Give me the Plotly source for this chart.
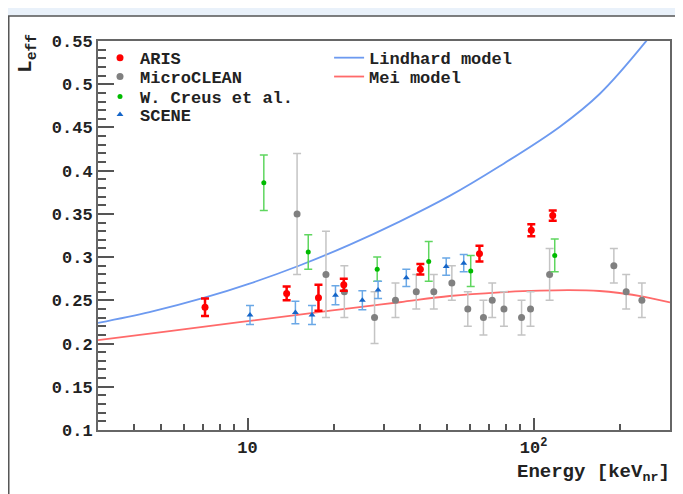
import plotly.graph_objects as go

# ARIS
aris_e = [7.1, 13.7, 17.7, 21.7, 40.2, 64.7, 98.2, 116.7]
aris_l = [0.242, 0.258, 0.253, 0.268, 0.286, 0.304, 0.331, 0.348]
aris_err = [0.010, 0.008, 0.015, 0.007, 0.006, 0.009, 0.007, 0.006]

# MicroCLEAN
micro_e = [14.9, 18.8, 21.8, 27.8, 32.9, 38.9, 44.8, 51.8, 58.9, 66.8, 71.7, 78.8,
           90.8, 97.6, 113.8, 190.9, 210.8, 239.2]
micro_l = [0.35, 0.28, 0.26, 0.23, 0.25, 0.26, 0.26, 0.27, 0.24, 0.23, 0.25, 0.24,
           0.23, 0.24, 0.28, 0.29, 0.26, 0.25]
micro_err = [0.07, 0.05, 0.03, 0.03, 0.02, 0.02, 0.02, 0.02, 0.02, 0.02, 0.02, 0.02,
             0.02, 0.02, 0.03, 0.02, 0.02, 0.02]

# W. Creus et al.
creus_e = [11.4, 16.3, 28.4, 43.0, 60.3, 118.6]
creus_l = [0.386, 0.306, 0.286, 0.295, 0.284, 0.302]
creus_err = [0.032, 0.020, 0.014, 0.023, 0.018, 0.019]

# SCENE
scene_e = [10.2, 14.7, 16.8, 20.3, 25.2, 28.6, 35.9, 49.5, 57.0]
scene_l = [0.233, 0.236, 0.233, 0.256, 0.250, 0.262, 0.276, 0.289, 0.293]
scene_err = [0.011, 0.013, 0.011, 0.011, 0.011, 0.010, 0.010, 0.010, 0.010]

# model curves
lind_e = [3.0, 4.54, 7.07, 10.16, 15.2, 22.7, 34.0, 50.9, 76.0, 123.3, 170.2, 244.3, 275.8]
lind_l = [0.2238, 0.2363, 0.2530, 0.2693, 0.2903, 0.3142, 0.3411, 0.3708, 0.4051,
          0.4506, 0.4887, 0.5475, 0.5706]
mei_e = [3.0, 5.34, 9.38, 15.2, 22.7, 34.0, 50.9, 76.0, 104.9, 133.6, 170.2, 199.8, 244.3, 300]
mei_l = [0.2040, 0.2145, 0.2248, 0.2335, 0.2408, 0.2478, 0.2550, 0.2593, 0.2612,
         0.2618, 0.2608, 0.2585, 0.2540, 0.2475]

y_ticks = [0.1, 0.15, 0.2, 0.25, 0.3, 0.35, 0.4, 0.45, 0.5, 0.55]
y_labels = ["0.1", "0.15", "0.2", "0.25", "0.3", "0.35", "0.4", "0.45", "0.5", "0.55"]

FONT = "Liberation Mono"
TXT = "#222222"
fig = go.Figure()

fig.add_trace(go.Scatter(x=lind_e, y=lind_l, mode="lines", name="Lindhard model",
                         line=dict(color="#6d9af0", width=1.8, shape="spline"),
                         legend="legend5"))
fig.add_trace(go.Scatter(x=mei_e, y=mei_l, mode="lines", name="Mei model",
                         line=dict(color="#ff6a6a", width=1.8, shape="spline"),
                         legend="legend6"))

fig.add_trace(go.Scatter(
    x=micro_e, y=micro_l, mode="markers", name="MicroCLEAN", legend="legend2",
    marker=dict(color="#808080", size=7),
    error_y=dict(type="data", array=micro_err, color="#c4c4c4", thickness=1.5, width=4)))
fig.add_trace(go.Scatter(
    x=creus_e, y=creus_l, mode="markers", name="W. Creus et al.", legend="legend3",
    marker=dict(color="#00bb00", size=5),
    error_y=dict(type="data", array=creus_err, color="#5fd65f", thickness=1.5, width=4)))
fig.add_trace(go.Scatter(
    x=scene_e, y=scene_l, mode="markers", name="SCENE", legend="legend4",
    marker=dict(color="#1565c8", size=6, symbol="triangle-up"),
    error_y=dict(type="data", array=scene_err, color="#6aa8e6", thickness=1.5, width=4)))
fig.add_trace(go.Scatter(
    x=aris_e, y=aris_l, mode="markers", name="ARIS", legend="legend",
    marker=dict(color="#ff0000", size=7),
    error_y=dict(type="data", array=aris_err, color="#ff0000", thickness=2.5, width=4)))
fig.update_traces(showlegend=True)


def leg(x, y):
    return dict(x=x, y=y, xanchor="left", yanchor="middle", bgcolor="rgba(0,0,0,0)",
                visible=True,
                font=dict(family=FONT, size=17, weight="bold", color=TXT))


fig.update_layout(
    width=675, height=486,
    margin=dict(l=90, r=13, t=33, b=64),
    paper_bgcolor="#e9f1fa",
    plot_bgcolor="white",
    showlegend=True,
    font=dict(family=FONT, size=17, color=TXT, weight="bold"),
    legend=leg(0.0035, 0.956),
    legend2=leg(0.0035, 0.9075),
    legend3=leg(0.0035, 0.856),
    legend4=leg(0.0035, 0.81),
    legend5=leg(0.404, 0.956),
    legend6=leg(0.404, 0.9075),
    shapes=[dict(type="rect", xref="paper", yref="paper", layer="below",
                 x0=-0.156, x1=1.05, y0=-0.2, y1=1.064,
                 line=dict(color="#555555", width=1.5), fillcolor="white")],
    annotations=[
        dict(text="L<sub>eff</sub>", xref="paper", yref="paper", x=-0.124, y=0.967,
             xanchor="center", yanchor="middle", textangle=-90, showarrow=False,
             font=dict(family=FONT, size=21, weight="bold", color=TXT)),
        dict(text="Energy [keV<sub>nr</sub>]", xref="paper", yref="paper", x=1.0035,
             y=-0.11, xanchor="right", yanchor="middle", showarrow=False,
             font=dict(family=FONT, size=19, weight="bold", color=TXT)),
    ],
)

fig.update_xaxes(
    type="log", range=[0.4771, 2.4771],
    tickvals=[10, 100], ticktext=["10", "10<sup>2</sup>"],
    ticks="inside", ticklen=12, tickwidth=1.5, tickcolor="#555555",
    ticklabelstandoff=1,
    minor=dict(ticks="inside", ticklen=6, tickwidth=1.5, tickcolor="#555555",
               tickvals=[3, 4, 5, 6, 7, 8, 9, 20, 30, 40, 50, 60, 70, 80, 90, 200, 300]),
    showline=True, linecolor="#666666", linewidth=2, mirror=True,
    showgrid=False, zeroline=False,
    tickfont=dict(family=FONT, size=17, weight="bold", color=TXT),
)
fig.update_yaxes(
    range=[0.1, 0.55], tickvals=y_ticks, ticktext=y_labels,
    ticks="inside", ticklen=16, tickwidth=1.5, tickcolor="#555555",
    minor=dict(ticks="inside", ticklen=8, tickwidth=1.5, tickcolor="#555555", dtick=0.01),
    showline=True, linecolor="#666666", linewidth=2, mirror=True,
    showgrid=False, zeroline=False,
    tickfont=dict(family=FONT, size=17, weight="bold", color=TXT),
)

fig.write_html("out.html")
